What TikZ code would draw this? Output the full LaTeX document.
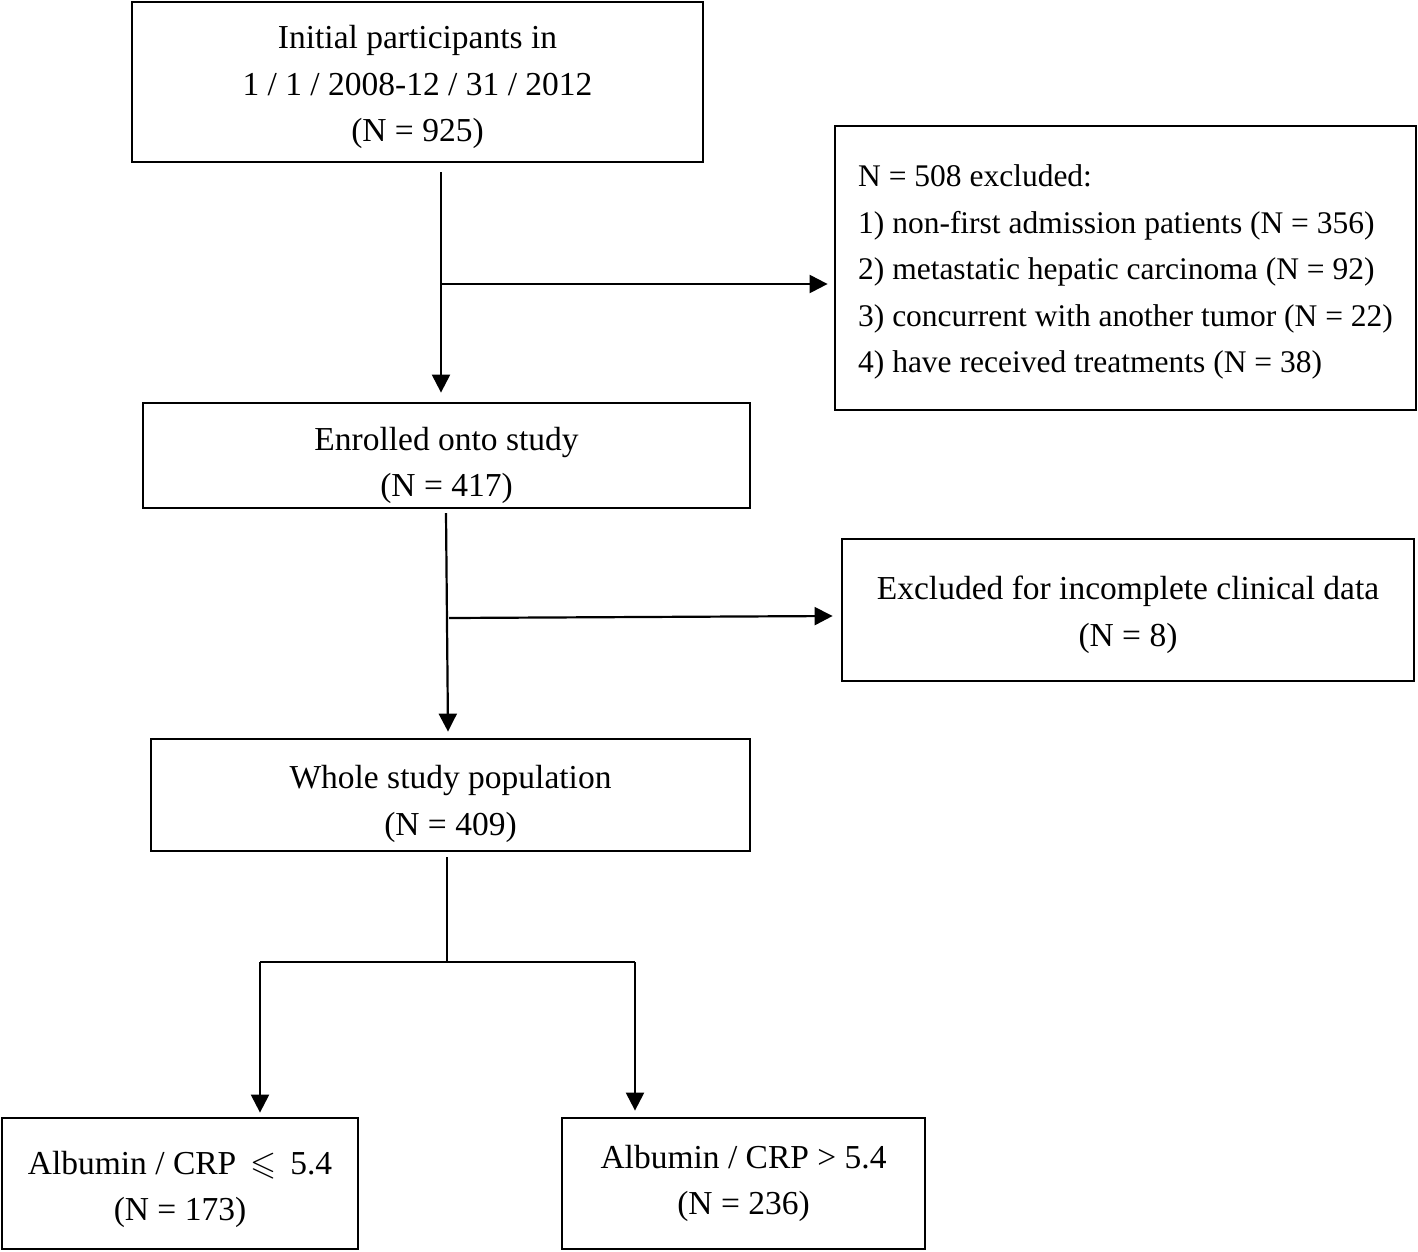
\documentclass[tikz,border=0pt]{standalone}
\usepackage{amssymb}
\usepackage{fontspec}
\setmainfont{Liberation Serif}
\usetikzlibrary{arrows.meta}
\begin{document}
\begin{tikzpicture}[x=1pt,y=-1pt,
  box/.style={draw,line width=2.8pt,inner sep=0pt},
  txt/.style={inner sep=0pt,align=center,font=\fontsize{33.5}{46.5}\selectfont},
  arr/.style={line width=2.2pt,-{Triangle[width=18pt,length=18pt]}},
  ln/.style={line width=2.2pt}]
\useasboundingbox (0,0) rectangle (1418,1251);
\node[box,minimum width=571pt,minimum height=160pt] (b1) at (417.5,82) {};
\node[txt] (t1) at ([yshift=-5pt]b1.center) {Initial participants in\\1 / 1 / 2008-12 / 31 / 2012\\(N = 925)};
\node[box,minimum width=581pt,minimum height=284pt] (b2) at (1125.5,268) {};
\node[txt,align=left,font=\fontsize{31.5}{46.5}\selectfont] (t2) at ([yshift=-4pt]b2.center) {N = 508 excluded:\\1) non-first admission patients (N = 356)\\2) metastatic hepatic carcinoma (N = 92)\\3) concurrent with another tumor (N = 22)\\4) have received treatments (N = 38)};
\node[box,minimum width=607pt,minimum height=105pt] (b3) at (446.5,455.5) {};
\node[txt] (t3) at ([yshift=-10pt]b3.center) {Enrolled onto study\\(N = 417)};
\node[box,minimum width=572pt,minimum height=142pt] (b4) at (1128,610) {};
\node[txt] (t4) at ([yshift=-5pt]b4.center) {Excluded for incomplete clinical data\\(N = 8)};
\node[box,minimum width=599pt,minimum height=112pt] (b5) at (450.5,795) {};
\node[txt] (t5) at ([yshift=-9pt]b5.center) {Whole study population\\(N = 409)};
\node[box,minimum width=356pt,minimum height=131pt] (b6) at (180,1183.5) {};
\node[txt] (t6) at ([yshift=-6pt]b6.center) {Albumin / CRP \,$\leqslant$\, 5.4\\(N = 173)};
\node[box,minimum width=363pt,minimum height=131pt] (b7) at (743.5,1183.5) {};
\node[txt] (t7) at (b7.center) {Albumin / CRP > 5.4\\(N = 236)};
% connector coordinates
\coordinate (s1) at (441,172);
\coordinate (j1) at (442,284);
\coordinate (s2) at (446,513);
\coordinate (j2) at (449,618);
\coordinate (s3) at (447,857);
\coordinate (j3) at (447,962);
\coordinate (l3) at (260,962);
\coordinate (r3) at (635,962);
\draw[arr] (s1) -- ([yshift=9pt]b3.north -| s1);
\draw[arr] (j1) -- ([xshift=-6pt]b2.west |- j1);
\draw[arr] (s2) -- ([yshift=6pt]b5.north -| 448,0);
\draw[arr] (j2) -- ([xshift=-8pt]b4.west |- 0,616);
\draw[ln] (s3) -- (j3);
\draw[ln] (l3) -- (r3);
\draw[arr] (l3) -- ([yshift=4pt]b6.north -| l3);
\draw[arr] (r3) -- ([yshift=6pt]b7.north -| r3);
\end{tikzpicture}
\end{document}
